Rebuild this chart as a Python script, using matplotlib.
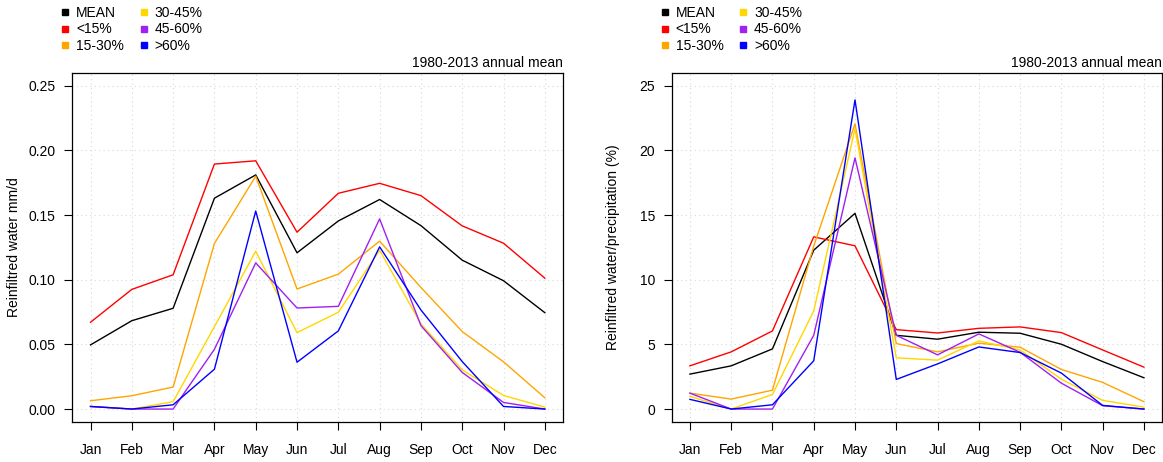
import numpy as np
import matplotlib
matplotlib.use('Agg')
import matplotlib.pyplot as plt
from matplotlib.lines import Line2D

plt.rcParams['font.family'] = ['Liberation Sans', 'DejaVu Sans']

# Month labels and class names
months = ['Jan', 'Feb', 'Mar', 'Apr', 'May', 'Jun', 'Jul', 'Aug', 'Sep', 'Oct', 'Nov', 'Dec']
classes = ['MEAN', '<15%', '15-30%', '30-45%', '45-60%', '>60%']
colors = ['black', 'red', '#FFA500', '#FFD700', '#A020F0', 'blue']

# Reinfiltrated water, mm/d
rw_mean = [0.0496, 0.0683, 0.0779, 0.163, 0.181, 0.1208, 0.1454, 0.162, 0.1418, 0.1151, 0.0992, 0.0745]
rw_lt15 = [0.0671, 0.0925, 0.1038, 0.1894, 0.1919, 0.1367, 0.1668, 0.1745, 0.165, 0.1416, 0.1282, 0.1012]
rw_15_30 = [0.0064, 0.0103, 0.017, 0.128, 0.18, 0.0928, 0.1043, 0.1298, 0.094, 0.0599, 0.0365, 0.0087]
rw_30_45 = [0.002, 0.0, 0.0057, 0.0637, 0.122, 0.0591, 0.0748, 0.1228, 0.0658, 0.0303, 0.0105, 0.0015]
rw_45_60 = [0.002, 0.0, 0.0, 0.0462, 0.113, 0.0781, 0.0794, 0.147, 0.0645, 0.0283, 0.0051, 0.0]
rw_gt60 = [0.002, 0.0, 0.0033, 0.0308, 0.1531, 0.0362, 0.0604, 0.1254, 0.0766, 0.0367, 0.002, 0.0]

# Reinfiltrated water / precipitation, %
rp_mean = [2.70, 3.34, 4.65, 12.28, 15.13, 5.70, 5.40, 5.94, 5.86, 5.01, 3.67, 2.42]
rp_lt15 = [3.34, 4.42, 6.04, 13.31, 12.62, 6.14, 5.88, 6.24, 6.35, 5.91, 4.57, 3.24]
rp_15_30 = [1.23, 0.77, 1.46, 12.6, 22.05, 5.06, 4.42, 5.09, 4.78, 3.06, 2.06, 0.57]
rp_30_45 = [0.98, 0.0, 1.13, 7.58, 21.66, 3.96, 3.78, 5.27, 4.57, 2.31, 0.67, 0.15]
rp_45_60 = [1.23, 0.0, 0.0, 5.70, 19.42, 5.70, 4.19, 5.81, 4.39, 2.0, 0.26, 0.0]
rp_gt60 = [0.75, 0.0, 0.33, 3.73, 23.9, 2.29, 3.49, 4.80, 4.37, 2.78, 0.28, 0.0]

left_series = [rw_mean, rw_lt15, rw_15_30, rw_30_45, rw_45_60, rw_gt60]
right_series = [rp_mean, rp_lt15, rp_15_30, rp_30_45, rp_45_60, rp_gt60]

fig = plt.figure(figsize=(11.63, 4.62), dpi=100)
ax1 = fig.add_axes([0.0622, 0.0866, 0.4219, 0.756])
ax2 = fig.add_axes([0.5776, 0.0866, 0.4216, 0.756])

x = np.arange(1, 13)


def draw(ax, series, yticks, ylim, yfmt, ylabel):
    for vals, c in zip(series, colors):
        ax.plot(x, vals, color=c, lw=1.0)
    ax.set_xlim(0.56, 12.44)
    ax.set_ylim(*ylim)
    ax.set_xticks(x)
    ax.set_xticklabels(months)
    ax.set_yticks(yticks)
    ax.set_yticklabels([yfmt.format(v) for v in yticks])
    ax.grid(True, color='#d9d9d9', linestyle=(0, (1, 3)), lw=0.8)
    ax.tick_params(direction='out', length=6, width=0.8, labelsize=10, pad=6)
    ax.tick_params(axis='x', pad=9)
    for s in ax.spines.values():
        s.set_linewidth(0.9)
    ax.set_ylabel(ylabel, fontsize=10)
    ax.yaxis.set_label_coords(-0.105, 0.5)
    ax.text(1.0, 1.008, '1980-2013 annual mean', transform=ax.transAxes,
            ha='right', va='bottom', fontsize=10)
    handles = [Line2D([], [], marker='s', ls='none', color=c, markersize=5) for c in colors]
    ax.legend(handles, classes, ncol=2, frameon=False, loc='lower left',
              bbox_to_anchor=(-0.043, 1.036), fontsize=10, handletextpad=0.3,
              labelspacing=0.2, columnspacing=0.9, handlelength=1.0, borderpad=0)


draw(ax1, left_series, [0.0, 0.05, 0.10, 0.15, 0.20, 0.25], (-0.01, 0.26), '{:.2f}',
     'Reinfiltred water mm/d')
draw(ax2, right_series, [0, 5, 10, 15, 20, 25], (-1.0, 26.0), '{:d}',
     'Reinfiltred water/precipitation (%)')

fig.savefig('out.png', dpi=100)
